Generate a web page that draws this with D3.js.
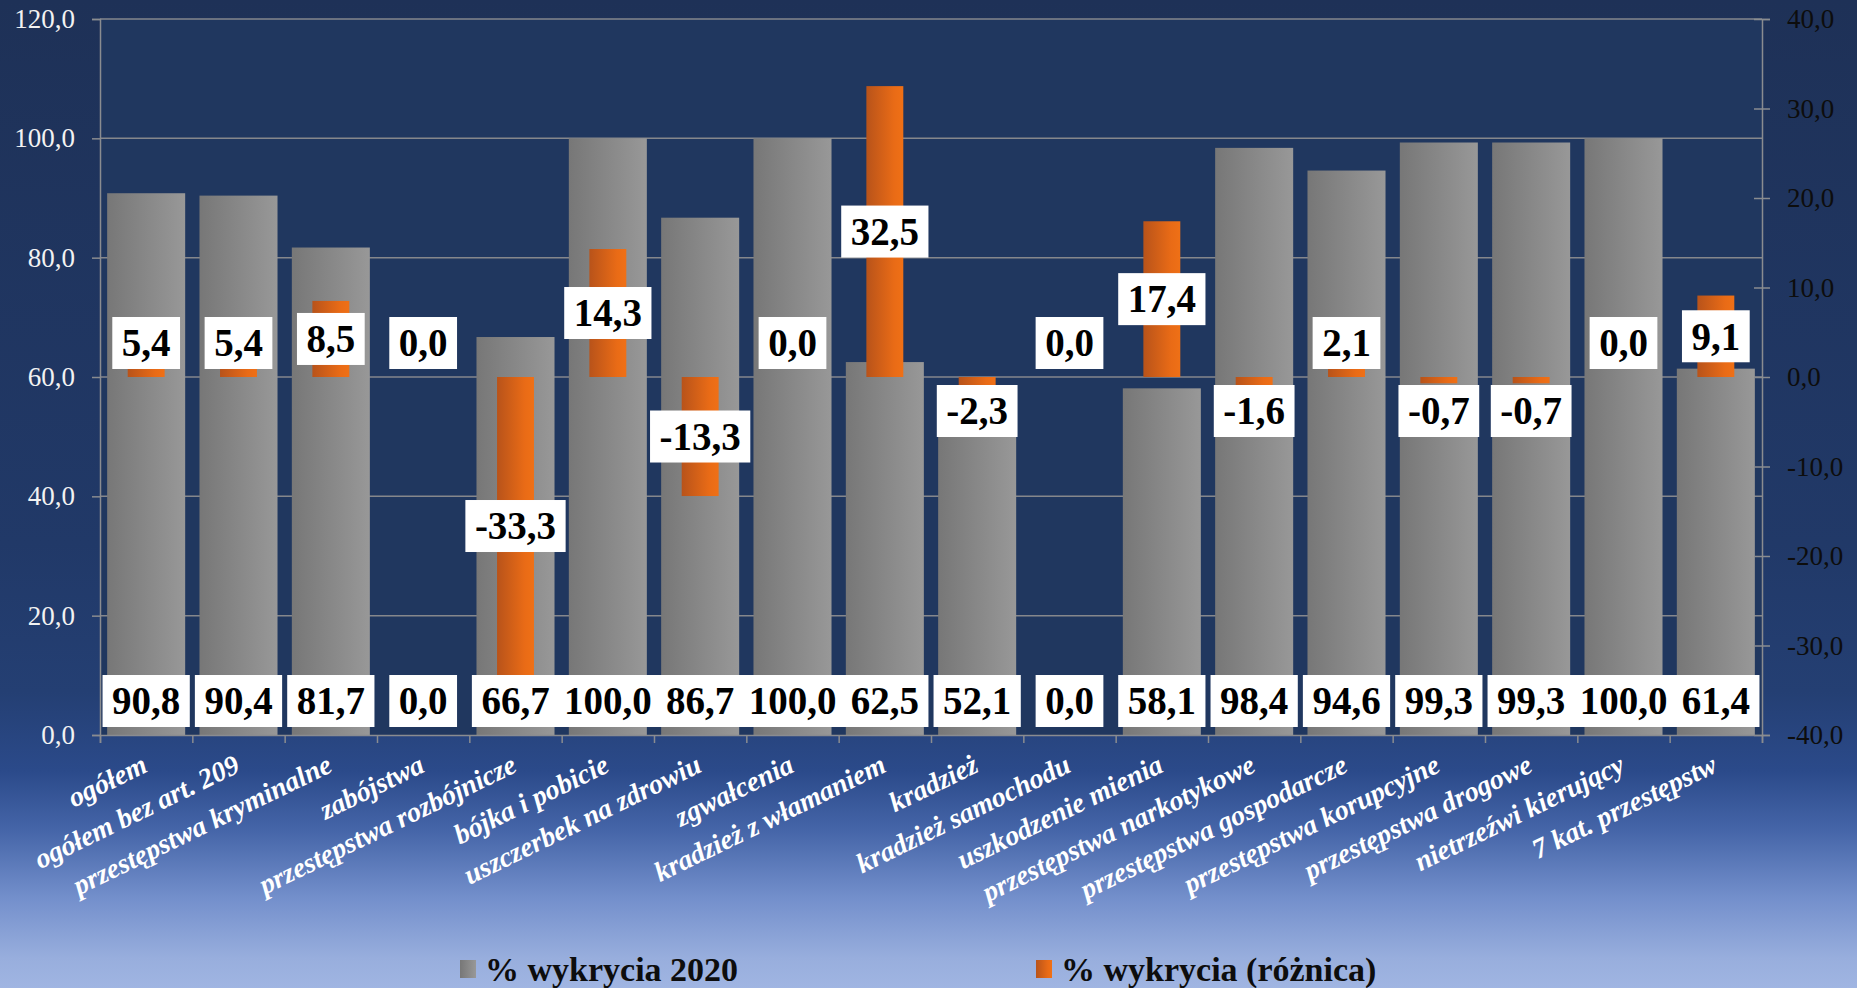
<!DOCTYPE html>
<html><head><meta charset="utf-8">
<script src="https://cdn.jsdelivr.net/npm/d3@7"></script>
<style>html,body{margin:0;padding:0;overflow:hidden;background:#1f3560}</style>
</head><body>
<svg id="chart" width="1857" height="988"></svg>
<script>
const categories = ["ogółem","ogółem bez art. 209","przestępstwa kryminalne","zabójstwa","przestępstwa rozbójnicze","bójka i pobicie","uszczerbek na zdrowiu","zgwałcenia","kradzież z włamaniem","kradzież","kradzież samochodu","uszkodzenie mienia","przestępstwa narkotykowe","przestępstwa gospodarcze","przestępstwa korupcyjne","przestępstwa drogowe","nietrzeźwi kierujący","7 kat. przestępstw"];
const detection2020 = [90.8,90.4,81.7,0.0,66.7,100.0,86.7,100.0,62.5,52.1,0.0,58.1,98.4,94.6,99.3,99.3,100.0,61.4];
const detectionDiff = [5.4,5.4,8.5,0.0,-33.3,14.3,-13.3,0.0,32.5,-2.3,0.0,17.4,-1.6,2.1,-0.7,-0.7,0.0,9.1];
const leftTicks = [0,20,40,60,80,100,120];
const rightTicks = [-40,-30,-20,-10,0,10,20,30,40];
const seriesNames = ["% wykrycia 2020","% wykrycia (różnica)"];

const fmt = v => v.toFixed(1).replace('.', ',');
const svg = d3.select("#chart");
const W = 1857, H = 988;
const L = 100, R = 1762, T = 19, B = 735;

const defs = svg.append("defs");
const bg = defs.append("linearGradient").attr("id","bg").attr("x1",0).attr("y1",0).attr("x2",0).attr("y2",1);
[[0,"#1e3157"],[0.55,"#213968"],[0.70,"#243f73"],[0.78,"#2b4a8a"],[0.84,"#4565a8"],[0.91,"#7490cc"],[0.97,"#98aedd"],[1,"#a0b5e2"]]
  .forEach(([o,c]) => bg.append("stop").attr("offset",o).attr("stop-color",c));
const gGray = defs.append("linearGradient").attr("id","gGray").attr("x1",0).attr("x2",1).attr("y1",0).attr("y2",0);
gGray.append("stop").attr("offset",0).attr("stop-color","#777777");
gGray.append("stop").attr("offset",1).attr("stop-color","#989898");
const gOr = defs.append("linearGradient").attr("id","gOr").attr("x1",0).attr("x2",1).attr("y1",0).attr("y2",0);
gOr.append("stop").attr("offset",0).attr("stop-color","#b8531a");
gOr.append("stop").attr("offset",0.75).attr("stop-color","#e96b16");
gOr.append("stop").attr("offset",1).attr("stop-color","#ef7016");

svg.append("rect").attr("width",W).attr("height",H).attr("fill","url(#bg)");
svg.append("rect").attr("x",L).attr("y",T).attr("width",R-L).attr("height",B-T).attr("fill","#20375f");

const x = d3.scaleBand().domain(categories).range([L,R]).paddingInner(0.155).paddingOuter(0.0775);
const step = x.step();
const xc = c => x(c) + x.bandwidth()/2;
const yL = d3.scaleLinear().domain([0,120]).range([B,T]);
const yR = d3.scaleLinear().domain([-40,40]).range([B,T]);

// gridlines
svg.append("g").selectAll("line").data(leftTicks.filter(d=>d>0)).join("line")
  .attr("x1",L).attr("x2",R).attr("y1",d=>yL(d)).attr("y2",d=>yL(d))
  .attr("stroke","#85878c").attr("stroke-width",1.5);

// gray bars
svg.append("g").selectAll("rect").data(categories).join("rect")
  .attr("x",c=>x(c)).attr("width",x.bandwidth())
  .attr("y",(c,i)=>yL(detection2020[i])).attr("height",(c,i)=>yL(0)-yL(detection2020[i]))
  .attr("fill","url(#gGray)");

// orange bars
const ow = step*0.4;
svg.append("g").selectAll("rect").data(categories).join("rect")
  .attr("x",c=>xc(c)-ow/2).attr("width",ow)
  .attr("y",(c,i)=>Math.min(yR(detectionDiff[i]),yR(0)))
  .attr("height",(c,i)=>Math.abs(yR(detectionDiff[i])-yR(0)))
  .attr("fill","url(#gOr)");

// axes
const axisColor = "#8a8c90";
const gl = svg.append("g").attr("transform",`translate(${L},0)`)
  .call(d3.axisLeft(yL).tickValues(leftTicks).tickSize(8).tickPadding(17).tickFormat(fmt));
gl.select(".domain").attr("stroke",axisColor).attr("stroke-width",1.5);
gl.selectAll(".tick line").attr("stroke",axisColor).attr("stroke-width",1.5);
gl.selectAll(".tick text").attr("fill","#f2f2f2").style("font-family","'Liberation Serif',serif").style("font-size","27px");

const gr = svg.append("g").attr("transform",`translate(${R},0)`)
  .call(d3.axisRight(yR).tickValues(rightTicks).tickSize(8).tickPadding(17).tickFormat(fmt));
gr.select(".domain").attr("stroke",axisColor).attr("stroke-width",1.5);
gr.selectAll(".tick line").attr("x1",-8).attr("stroke",axisColor).attr("stroke-width",1.5);
gr.selectAll(".tick text").attr("fill","#0d0d0d").style("font-family","'Liberation Serif',serif").style("font-size","27px");

const xi = d3.scaleLinear().domain([0,categories.length]).range([L,R]);
const gb = svg.append("g").attr("transform",`translate(0,${B})`)
  .call(d3.axisBottom(xi).tickValues(d3.range(categories.length+1)).tickSize(8).tickFormat(""));
gb.select(".domain").attr("stroke",axisColor).attr("stroke-width",1.5);
gb.selectAll(".tick line").attr("stroke",axisColor).attr("stroke-width",1.5);

// category labels
svg.append("g").selectAll("text").data(categories).join("text")
  .attr("transform",c=>`translate(${xc(c)+3},${771}) rotate(-26)`)
  .attr("text-anchor","end")
  .attr("fill","#ffffff")
  .style("font-family","'Liberation Serif',serif").style("font-weight","bold").style("font-style","italic")
  .style("font-size","28px")
  .text(c=>c);

// data labels
function label(g, cx, cy, txt){
  const grp = g.append("g");
  const rect = grp.append("rect").attr("fill","#ffffff");
  const t = grp.append("text").attr("x",cx).attr("y",cy).attr("dy","0.34em")
    .attr("text-anchor","middle").attr("fill","#000")
    .style("font-family","'Liberation Serif',serif").style("font-weight","bold").style("font-size","39px")
    .text(txt);
  const w = t.node().getComputedTextLength() + 19;
  rect.attr("x",cx-w/2).attr("y",cy-26).attr("width",w).attr("height",52);
}
const lg1 = svg.append("g");
categories.forEach((c,i)=> label(lg1, xc(c), B-34, fmt(detection2020[i])));
const lg2 = svg.append("g");
categories.forEach((c,i)=>{
  const v = detectionDiff[i];
  let cy = (yR(v)+yR(0))/2;
  const z = yR(0);
  if (v >= 0) cy = Math.min(cy, z-34); else cy = Math.max(cy, z+34);
  label(lg2, xc(c), cy, fmt(v));
});

// legend
const legend = svg.append("g");
const legItems = [{x:460, fill:"url(#gGray)", name:seriesNames[0]},{x:1036, fill:"url(#gOr)", name:seriesNames[1]}];
legItems.forEach(d=>{
  legend.append("rect").attr("x",d.x).attr("y",960).attr("width",16).attr("height",18).attr("fill",d.fill);
  legend.append("text").attr("x",d.x+25).attr("y",969).attr("dy","0.35em")
    .attr("fill","#0d0d0d").style("font-family","'Liberation Serif',serif").style("font-weight","bold").style("font-size","34px")
    .text(d.name);
});
</script>
</body></html>
